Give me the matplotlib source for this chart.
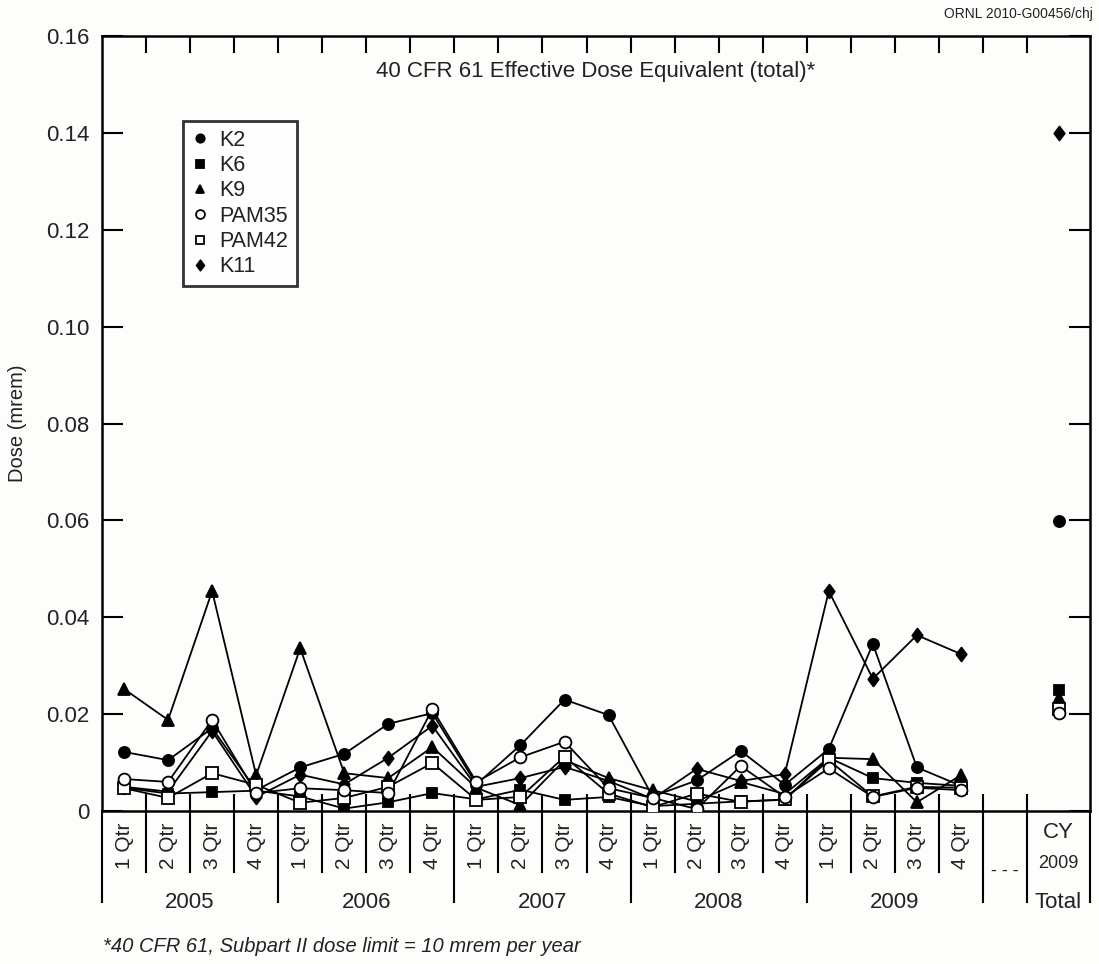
import numpy as np
import matplotlib
matplotlib.use('Agg')
import matplotlib.pyplot as plt
from matplotlib.lines import Line2D
from matplotlib.path import Path

plt.rcParams['font.family'] = ['Liberation Sans', 'DejaVu Sans']

# 2005 Q1 ... 2009 Q4
quarters = ['1 Qtr', '2 Qtr', '3 Qtr', '4 Qtr'] * 5
years = ['2005', '2006', '2007', '2008', '2009']

k2 = [0.0122, 0.0105, 0.0171, 0.0043, 0.0090, 0.0118, 0.0180, 0.0202,
      0.0055, 0.0136, 0.0230, 0.0198, 0.0030, 0.0063, 0.0124, 0.0054,
      0.0128, 0.0345, 0.0090, 0.0052]
k6 = [0.0048, 0.0036, 0.0039, 0.0042, 0.0030, 0.0005, 0.0018, 0.0037,
      0.0024, 0.0044, 0.0023, 0.0029, 0.0010, 0.0015, 0.0020, 0.0023,
      0.0110, 0.0068, 0.0058, 0.0052]
k9 = [0.0252, 0.0188, 0.0454, 0.0074, 0.0336, 0.0078, 0.0068, 0.0132,
      0.0048, 0.0012, 0.0105, 0.0068, 0.0043, 0.0020, 0.0060, 0.0035,
      0.0110, 0.0107, 0.0018, 0.0074]
pam35 = [0.0066, 0.0060, 0.0188, 0.0037, 0.0047, 0.0043, 0.0037, 0.0210,
         0.0060, 0.0111, 0.0143, 0.0047, 0.0027, 0.0004, 0.0093, 0.0029,
         0.0088, 0.0029, 0.0048, 0.0043]
pam42 = [0.0047, 0.0027, 0.0078, 0.0054, 0.0017, 0.0027, 0.0050, 0.0099,
         0.0023, 0.0029, 0.0112, 0.0036, 0.0008, 0.0036, 0.0019, 0.0024,
         0.0105, 0.0030, 0.0050, 0.0048]
k11 = [0.0050, 0.0040, 0.0165, 0.0029, 0.0075, 0.0055, 0.0110, 0.0176,
       0.0050, 0.0068, 0.0091, 0.0062, 0.0025, 0.0087, 0.0062, 0.0076,
       0.0454, 0.0273, 0.0363, 0.0324]

# CY 2009 totals
totals = {'K2': 0.0598, 'K6': 0.0250, 'K9': 0.0233,
          'PAM35': 0.0203, 'PAM42': 0.0210, 'K11': 0.1400}

yticks = [0, 0.02, 0.04, 0.06, 0.08, 0.10, 0.12, 0.14, 0.16]
ytick_labels = ['0', '0.02', '0.04', '0.06', '0.08', '0.10', '0.12', '0.14', '0.16']

# rhombus a bit taller than wide, like the original diamonds
diamond = Path([(0, 1), (0.75, 0), (0, -1), (-0.75, 0), (0, 1)],
               [Path.MOVETO, Path.LINETO, Path.LINETO, Path.LINETO, Path.CLOSEPOLY])

series = [
    ('K11', k11, diamond, 'black', 10),
    ('K6', k6, 's', 'black', 7),
    ('K9', k9, '^', 'black', 8.5),
    ('K2', k2, 'o', 'black', 8),
    ('PAM42', pam42, 's', 'white', 8),
    ('PAM35', pam35, 'o', 'white', 8.5),
]
legend_order = ['K2', 'K6', 'K9', 'PAM35', 'PAM42', 'K11']

fig = plt.figure(figsize=(10.99, 9.64), dpi=100)
fig.patch.set_facecolor('#fdfdfb')
ax = fig.add_axes([102 / 1099, 1 - 811 / 964, 988 / 1099, 775 / 964])
ax.set_facecolor('#fdfdfb')

n = len(quarters)
x = np.arange(n)
x_total = (n + 0.5 + 21.93) / 2  # center of the wider "Total" column

handles = {}
for name, vals, mk, fc, ms in series:
    ax.plot(x, vals, color='black', lw=1.3, zorder=2)
    ax.plot(x, vals, ls='none', marker=mk, ms=ms, mfc=fc, mec='black',
            mew=1.3, zorder=3)
    ax.plot([x_total], [totals[name]], ls='none', marker=mk, ms=ms, mfc=fc,
            mec='black', mew=1.3, zorder=3)
    handles[name] = Line2D([], [], ls='none', marker=mk, ms=ms * 0.75, mfc=fc,
                           mec='black', mew=1.3)

ax.set_xlim(-0.5, 21.93)
ax.set_ylim(0, 0.16)
ax.set_yticks(yticks)
ax.set_yticklabels(ytick_labels)
bounds = np.arange(n + 1) + 0.5
ax.set_xticks(bounds)
ax.set_xticklabels([])
ax.tick_params(axis='x', direction='in', length=12, width=1.5, top=True, bottom=True)
ax.tick_params(axis='y', direction='in', length=15, width=1.5, left=True, right=True,
               labelsize=16, pad=9, labelcolor='#222222')
for s in ax.spines.values():
    s.set_linewidth(1.8)

ax.set_ylabel('Dose (mrem)', fontsize=14.5, labelpad=14, color='#222222')

ax.text(0.5, 0.954, '40 CFR 61 Effective Dose Equivalent (total)*', transform=ax.transAxes,
        ha='center', va='center', fontsize=16, color='#222222')

leg = ax.legend([handles[k] for k in legend_order], legend_order, loc='upper left',
                bbox_to_anchor=(0.082, 0.89), borderaxespad=0, fontsize=15.5,
                frameon=True, fancybox=False, edgecolor='black', handlelength=0.8,
                handletextpad=0.5, labelspacing=0.2, borderpad=0.4)
leg.get_frame().set_linewidth(2)
leg.get_frame().set_facecolor('white')
for t in leg.get_texts():
    t.set_color('#222222')

# category labels under the axis
trans = ax.get_xaxis_transform()
short = -61 / 775
long = -91 / 775
for b in bounds[:-1]:
    if (b + 0.5) % 4 != 0:
        ax.plot([b, b], [0, short], transform=trans, color='black', lw=1.5, clip_on=False)
for b in [-0.5, 3.5, 7.5, 11.5, 15.5, 19.5, 20.5, 21.93]:
    ax.plot([b, b], [0, long], transform=trans, color='black', lw=1.5, clip_on=False)

for i, q in enumerate(quarters):
    ax.text(i, -12 / 775, q, transform=trans, rotation=90, ha='center', va='top',
            fontsize=15, color='#222222')
for j, yr in enumerate(years):
    ax.text(4 * j + 1.5, -92 / 775, yr, transform=trans, ha='center', va='center',
            fontsize=16, color='#222222')
ax.text(n, -60 / 775, '- - -', transform=trans, ha='center', va='center',
        fontsize=13, color='#222222')
ax.text(x_total, -22 / 775, 'CY', transform=trans, ha='center', va='center',
        fontsize=16, color='#222222')
ax.text(x_total, -52 / 775, '2009', transform=trans, ha='center', va='center',
        fontsize=13, color='#222222')
ax.text(x_total, -92 / 775, 'Total', transform=trans, ha='center', va='center',
        fontsize=16, color='#222222')

fig.text(1093 / 1099, 1 - 14 / 964, 'ORNL 2010-G00456/chj', ha='right', va='center',
         fontsize=10, color='#222222')
fig.text(103 / 1099, 1 - 947 / 964, '*40 CFR 61, Subpart II dose limit = 10 mrem per year',
         ha='left', va='center', fontsize=14.5, style='italic', color='#222222')

fig.savefig('out.png', dpi=100, facecolor=fig.get_facecolor())
